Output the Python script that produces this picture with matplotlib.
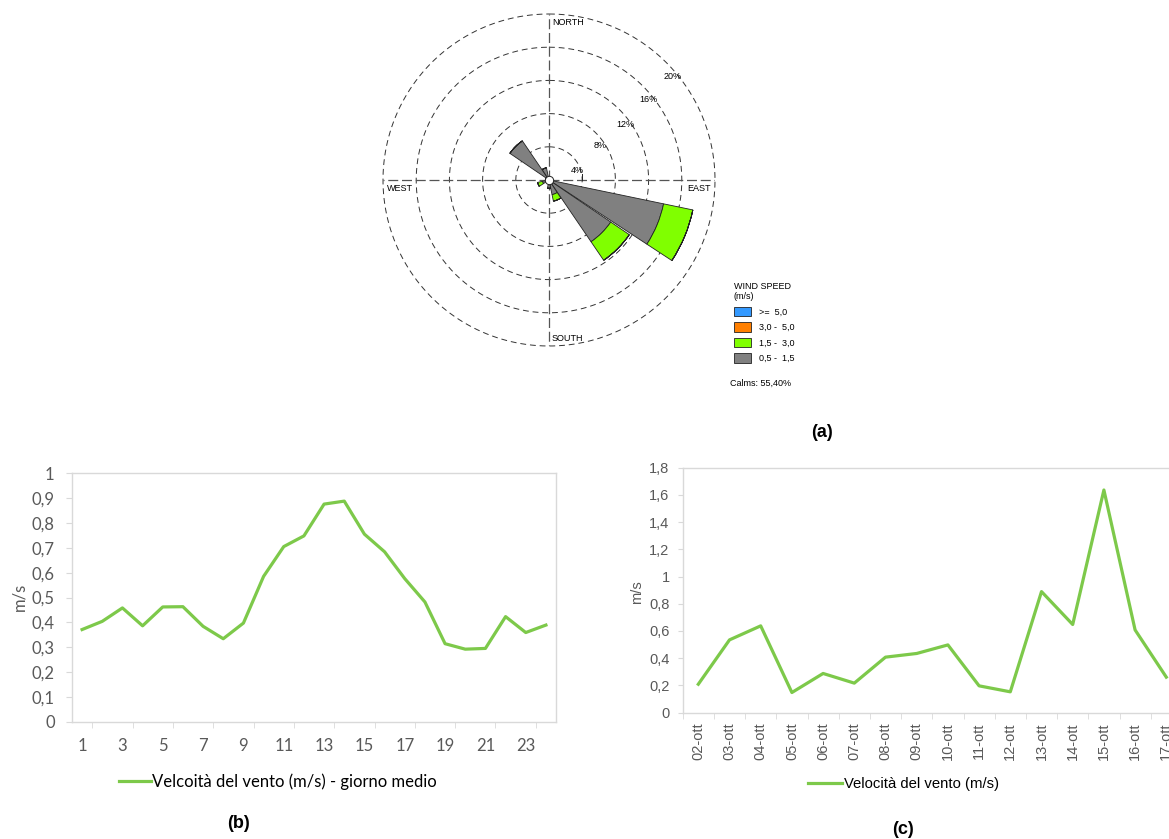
import numpy as np
import matplotlib
matplotlib.use("Agg")
import matplotlib.pyplot as plt
from matplotlib.patches import Patch
from matplotlib.lines import Line2D
from matplotlib.ticker import FuncFormatter

# (a) wind rose: frequency (%) per direction and speed class
directions = ["N", "NNE", "NE", "ENE", "E", "ESE", "SE", "SSE",
              "S", "SSW", "SW", "WSW", "W", "WNW", "NW", "NNW"]
freq_05_15 = [0.3, 0.0, 0.0, 0.0, 0.0, 14.1, 9.0, 1.8, 1.0, 0.0, 0.0, 0.8, 0.3, 0.4, 5.7, 1.5]
freq_15_30 = [0.0, 0.0, 0.0, 0.0, 0.0, 3.6, 2.7, 0.8, 0.0, 0.0, 0.0, 0.6, 0.0, 0.0, 0.0, 0.0]
freq_30_50 = [0.0] * 16
freq_ge_50 = [0.0] * 16
speed_classes = [">=  5,0", "3,0 -  5,0", "1,5 -  3,0", "0,5 -  1,5"]
class_colors = ["#3399FF", "#FF7F00", "#80FF00", "#808080"]
calms_text = "Calms: 55,40%"
rings = [4, 8, 12, 16, 20]

# (b) mean day
hours = list(range(1, 25))
wind_hourly = [0.371, 0.404, 0.458, 0.386, 0.462, 0.463, 0.384, 0.334, 0.397, 0.585,
               0.705, 0.748, 0.876, 0.888, 0.755, 0.684, 0.576, 0.482, 0.314, 0.292,
               0.295, 0.423, 0.359, 0.389]

# (c) daily
days = ["02-ott", "03-ott", "04-ott", "05-ott", "06-ott", "07-ott", "08-ott", "09-ott",
        "10-ott", "11-ott", "12-ott", "13-ott", "14-ott", "15-ott", "16-ott", "17-ott"]
wind_daily = [0.208, 0.534, 0.637, 0.147, 0.287, 0.216, 0.407, 0.434,
              0.497, 0.196, 0.152, 0.889, 0.647, 1.636, 0.607, 0.260]

W, H = 1169, 839
line_green = "#7DC94A"
txt_gray = "#595959"
axis_gray = "#D9D9D9"


def fx(px):
    return px / W


def fy(py):
    return 1 - py / H


def comma(v, pos=None):
    return ("%g" % round(v, 1)).replace(".", ",")


fig = plt.figure(figsize=(W / 100, H / 100), dpi=100)

# ---------------- (a) wind rose ----------------
ax = fig.add_axes([fx(383), fy(346), fx(332), 332 / H], projection="polar")
ax.set_theta_zero_location("N")
ax.set_theta_direction(-1)
ax.set_ylim(0, 20)
ax.set_axis_off()

theta = np.deg2rad(np.arange(len(directions)) * 22.5)
width = np.deg2rad(21.5)
circ = np.linspace(0, 2 * np.pi, 400)
for r in rings:
    ax.plot(circ, np.full_like(circ, r), color="#333333", lw=0.7,
            ls=(0, (6, 4)), zorder=1, clip_on=False)
for a in [0, np.pi / 2, np.pi, 3 * np.pi / 2]:
    ax.plot([a, a], [0, 20], color="#555555", lw=0.9, ls=(0, (8, 3)), zorder=1)

stack = [freq_05_15, freq_15_30, freq_30_50, freq_ge_50]
stack_colors = class_colors[::-1]
bottom = np.zeros(len(directions))
for vals, col in zip(stack, stack_colors):
    vals = np.array(vals)
    ax.bar(theta, vals, width=width, bottom=bottom, color=col,
           edgecolor="#222222", linewidth=0.6, zorder=3)
    bottom = bottom + vals
ax.plot([0], [0], "o", ms=6, mfc="white", mec="#222222", mew=0.7, zorder=5)

# ring labels and small tick at 4%
label_bearing = [71, 56, 54, 51, 50]
for r, b in zip(rings, label_bearing):
    rr = r * 0.89 if r == 4 else r - 0.55
    ax.text(np.deg2rad(b), rr, f"{r}%", fontsize=6.5, ha="center", va="center",
            family="Liberation Sans", zorder=6)
ax.plot([np.pi / 2, np.pi / 2 - np.arctan(0.7 / 4)], [4, np.hypot(4, 0.7)],
        color="#222222", lw=0.7, zorder=4)

dkw = dict(fontsize=6.5, family="Liberation Sans", textcoords="offset points")
ax.annotate("NORTH", xy=(0, 20), xytext=(2, -3), ha="left", va="top", **dkw)
ax.annotate("SOUTH", xy=(np.pi, 20), xytext=(2, 2), ha="left", va="bottom", **dkw)
ax.annotate("EAST", xy=(np.pi / 2, 20), xytext=(-3, -3), ha="right", va="top", **dkw)
ax.annotate("WEST", xy=(3 * np.pi / 2, 20), xytext=(3, -3), ha="left", va="top", **dkw)

handles = [Patch(facecolor=c, edgecolor="#222222", linewidth=0.6) for c in class_colors]
fig.legend(handles, speed_classes, loc="upper left",
           bbox_to_anchor=(fx(729), fy(277)), frameon=False,
           prop={"family": "Liberation Sans", "size": 6.5},
           title="WIND SPEED\n(m/s)",
           title_fontproperties={"family": "Liberation Sans", "size": 6.5},
           alignment="left", handlelength=1.9, handleheight=1.3,
           labelspacing=0.62, handletextpad=0.9, borderpad=0.0)
fig.text(fx(730), fy(383), calms_text, fontsize=6.5, family="Liberation Sans", va="center")

fig.text(fx(822), fy(432), "(a)", fontsize=13, fontweight="bold",
         family="Liberation Sans", ha="center", va="center")

# ---------------- (b) mean day ----------------
axb = fig.add_axes([fx(72), fy(721.7), fx(484), 248.4 / H])
axb.plot(hours, wind_hourly, color=line_green, lw=2.3)
axb.set_xlim(0.5, 24.5)
axb.set_ylim(0, 1)
axb.set_yticks(np.arange(0, 1.01, 0.1))
axb.yaxis.set_major_formatter(FuncFormatter(comma))
axb.set_xticks(hours[::2])
axb.set_xticklabels([str(h) for h in hours[::2]])
axb.set_xticks(np.arange(1.5, 24.5, 2), minor=True)
for s in axb.spines.values():
    s.set_color(axis_gray)
    s.set_linewidth(1.0)
axb.tick_params(axis="x", which="major", length=0, pad=12, labelsize=12, labelcolor=txt_gray)
axb.tick_params(axis="x", which="minor", length=4, color=axis_gray)
axb.tick_params(axis="y", length=4.5, color=axis_gray, pad=8, labelsize=12, labelcolor=txt_gray)
for lab in axb.get_xticklabels() + axb.get_yticklabels():
    lab.set_family("Lato")
fig.text(fx(19.5), fy(597), "m/s", rotation=90, fontsize=12, color=txt_gray,
         family="Lato", ha="center", va="center")
fig.legend([Line2D([], [], color=line_green, lw=2.3)],
           ["Velcoità del vento (m/s) - giorno medio"],
           loc="center left", bbox_to_anchor=(fx(119), fy(781.7)), frameon=False,
           prop={"family": "Lato", "size": 12}, handlelength=1.9,
           handletextpad=0.1, borderpad=0.0, borderaxespad=0.0)
fig.text(fx(238), fy(823), "(b)", fontsize=13, fontweight="bold",
         family="Liberation Sans", ha="center", va="center")

# ---------------- (c) daily ----------------
nd = len(days)
axc = fig.add_axes([fx(682.7), fy(712.5), fx(nd * 31.2), 244.8 / H])
xc = np.arange(1, nd + 1)
axc.plot(xc, wind_daily, color=line_green, lw=2.3)
axc.set_xlim(0.5, nd + 0.5)
axc.set_ylim(0, 1.8)
axc.set_yticks(np.arange(0, 1.81, 0.2))
axc.yaxis.set_major_formatter(FuncFormatter(comma))
axc.set_xticks(xc)
axc.set_xticklabels(days, rotation=90)
axc.set_xticks(np.arange(0.5, nd + 1, 1), minor=True)
for s in axc.spines.values():
    s.set_color(axis_gray)
    s.set_linewidth(1.0)
axc.tick_params(axis="x", which="major", length=0, pad=7, labelsize=10.5, labelcolor=txt_gray)
axc.tick_params(axis="x", which="minor", length=4, color=axis_gray)
axc.tick_params(axis="y", length=3.5, color=axis_gray, pad=6, labelsize=10.5, labelcolor=txt_gray)
for lab in axc.get_xticklabels() + axc.get_yticklabels():
    lab.set_family("Liberation Sans")
fig.text(fx(637.5), fy(592), "m/s", rotation=90, fontsize=10.5, color=txt_gray,
         family="Liberation Sans", ha="center", va="center")
fig.legend([Line2D([], [], color=line_green, lw=2.3)],
           ["Velocità del vento (m/s)"],
           loc="center left", bbox_to_anchor=(fx(808), fy(784)), frameon=False,
           prop={"family": "Liberation Sans", "size": 10.7}, handlelength=2.3,
           handletextpad=0.1, borderpad=0.0, borderaxespad=0.0)
fig.text(fx(903), fy(830), "(c)", fontsize=13, fontweight="bold",
         family="Liberation Sans", ha="center", va="center")

fig.savefig("out.png", dpi=100, facecolor="white")
